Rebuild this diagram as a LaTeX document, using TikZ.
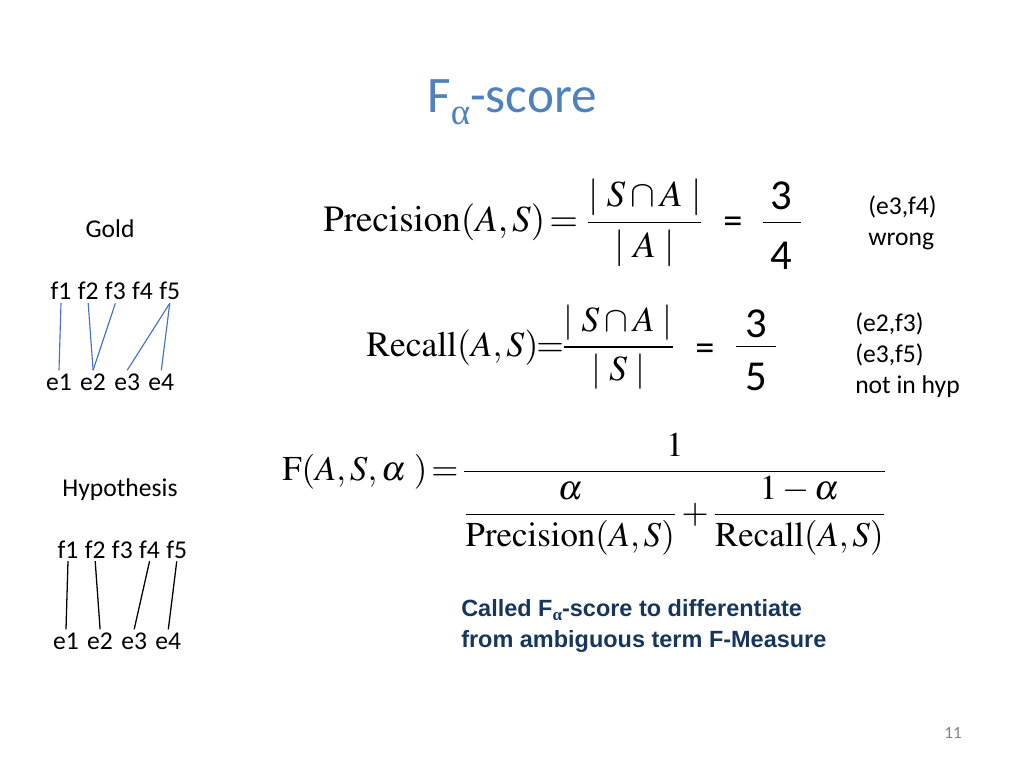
\documentclass[tikz,border=0pt]{standalone}
\usepackage{mathptmx}
\usepackage{amsmath}
\usepackage[no-math]{fontspec}
\setmainfont{Carlito}
\newfontfamily\boldsans{Liberation Sans}
\newfontfamily\symfont{Liberation Serif}
\usetikzlibrary{positioning}
\definecolor{titleblue}{RGB}{79,129,189}
\definecolor{linkblue}{RGB}{68,114,196}
\definecolor{noteblue}{RGB}{23,54,93}

\begin{document}
\begin{tikzpicture}[
              x=0.703125pt, y=-0.703125pt,
              tok/.style={inner xsep=0pt, inner ysep=2pt, font=\fontsize{18}{21}\selectfont},
              lbl/.style={anchor=base, inner sep=0pt, font=\fontsize{18}{21}\selectfont},
              side/.style={anchor=north west, inner sep=0pt, align=left, font=\fontsize{18}{21.8}\selectfont},
              eqn/.style={anchor=base west, inner sep=0pt, font=\fontsize{26}{30}\selectfont},
              digit/.style={anchor=base, inner sep=0pt, font=\fontsize{30}{34}\selectfont},
              eqsign/.style={anchor=base, inner sep=0pt, font=\fontsize{27}{30}\selectfont},
              gl/.style={linkblue, line width=0.8pt},
              hl/.style={black, line width=0.9pt}
            ]
            \useasboundingbox (0,0) rectangle (1024,768);

            % Titel
            \node[anchor=base, inner sep=0pt, text=titleblue, font=\fontsize{36}{40}\selectfont] (title) at (512,113)
                 {F\raisebox{-8pt}{\fontsize{26}{28}\symfont α}-score};

            % Gold
            \node[lbl] (gold) at (110,238) {Gold};
            \node[tok, anchor=base] (gf1) at (61,300) {f1};
            \node[tok, base right=4.1pt of gf1] (gf2) {f2};
            \node[tok, base right=4.1pt of gf2] (gf3) {f3};
            \node[tok, base right=4.1pt of gf3] (gf4) {f4};
            \node[tok, base right=4.1pt of gf4] (gf5) {f5};
            \node[tok, anchor=base] (ge1) at (59,390) {e1};
            \node[tok, base right=5.5pt of ge1] (ge2) {e2};
            \node[tok, base right=5.5pt of ge2] (ge3) {e3};
            \node[tok, base right=5.5pt of ge3] (ge4) {e4};

            \draw[gl] (gf1.south) -- (ge1.north);
            \draw[gl] (gf2.south) -- (ge2.north);
            \draw[gl] (gf3.south) -- (ge2.north);
            \draw[gl] (gf5.south) -- (ge3.north);
            \draw[gl] (gf5.south) -- (ge4.north);

            % Hypothesis
            \node[lbl] (hyp) at (120,496) {Hypothesis};
            \node[tok, anchor=base] (hf1) at (68,558) {f1};
            \node[tok, base right=4.1pt of hf1] (hf2) {f2};
            \node[tok, base right=4.1pt of hf2] (hf3) {f3};
            \node[tok, base right=4.1pt of hf3] (hf4) {f4};
            \node[tok, base right=4.1pt of hf4] (hf5) {f5};
            \node[tok, anchor=base] (he1) at (66,649) {e1};
            \node[tok, base right=5.5pt of he1] (he2) {e2};
            \node[tok, base right=5.5pt of he2] (he3) {e3};
            \node[tok, base right=5.5pt of he3] (he4) {e4};

            \draw[hl] (hf1.south) -- (he1.north);
            \draw[hl] (hf2.south) -- (he2.north);
            \draw[hl] (hf4.south) -- (he3.north);
            \draw[hl] (hf5.south) -- (he4.north);

            % Precision
            \node[eqn] (prec) at (323,232) {$\mathrm{Precision}(A,S)\mkern-2mu=\dfrac{|\;S\cap A\;|}{|\;A\;|}$};
            \node[eqsign] (peq) at (733,234) {=};
            \node[digit] (pnum) at (781,210) {3};
            \node[digit] (pden) at (781,270) {4};
            \coordinate (pbl) at (763,222);
            \coordinate (pbr) at (801,222);
            \draw (pbl) -- (pbr);
            \node[side] (pnote) at (868,195) {(e3,f4)\\wrong};

            % Recall
            \node[eqn, font=\fontsize{25}{29}\selectfont] (rec) at (366,356)
                 {$\mathrm{Recall}(A,S)\mkern-5mu=\mkern-5mu\dfrac{|\;S\cap A\;|}{|\;S\;|}$};
            \node[eqsign] (req) at (705,360) {=};
            \node[digit] (rnum) at (756,338) {3};
            \node[digit] (rden) at (756,390) {5};
            \coordinate (rbl) at (736,346);
            \coordinate (rbr) at (776,346);
            \draw (rbl) -- (rbr);
            \node[side] (rnote) at (855,312) {(e2,f3)\\(e3,f5)\\not in hyp};

            % F-score
            \node[eqn, font=\fontsize{24.5}{28}\selectfont] (fsc) at (282,480)
                 {$\mathrm{F}(A,S,\alpha\ )\!=\!\dfrac{1}{\dfrac{\alpha}{\mathrm{Precision}(A,S)}+\dfrac{1-\alpha}{\mathrm{Recall}(A,S)}}$};

            % Poznámka
            \node[anchor=north west, inner sep=0pt, align=left, text=noteblue,
                  font=\boldsans\bfseries\fontsize{16.5}{21.8}\selectfont] (note) at (461,599)
                 {Called F\raisebox{-3pt}{\fontsize{12}{12}\symfont α}-score to differentiate\\from ambiguous term F-Measure};

            \node[text=gray, font=\fontsize{12}{14}\selectfont] (page) at (953,733) {11};

            \end{tikzpicture}
\end{document}
